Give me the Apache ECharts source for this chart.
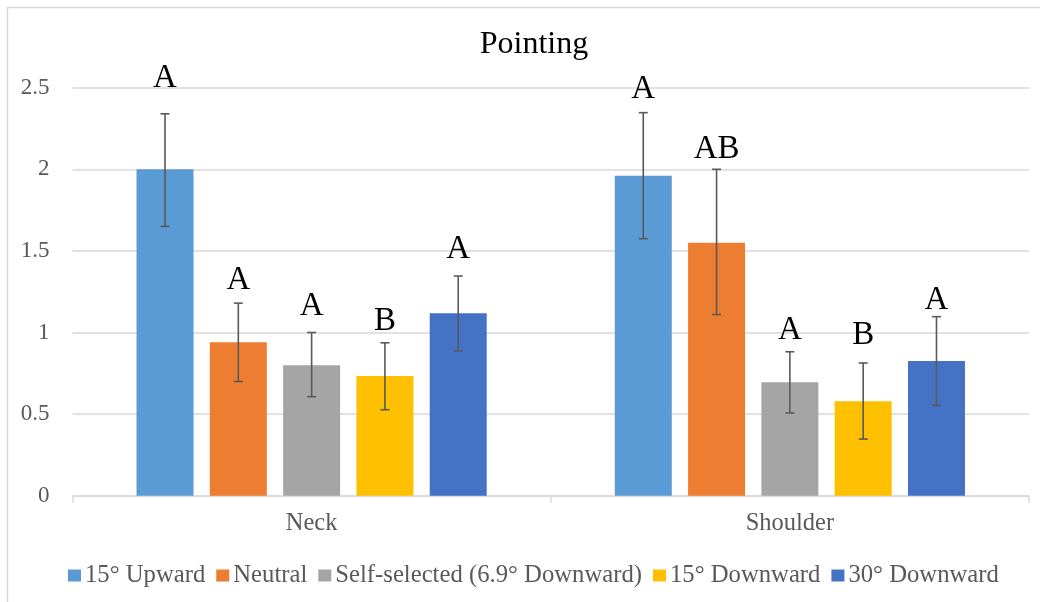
<!DOCTYPE html>
<html>
<head>
<meta charset="utf-8">
<script src="https://cdn.jsdelivr.net/npm/echarts@6/dist/echarts.min.js"></script>
<style>html,body{margin:0;padding:0;background:#fff}#c{width:1040px;height:602px}</style>
</head>
<body>
<div id="c"></div>
<script>
var categories = ['Neck', 'Shoulder'];
var seriesNames = ['15° Upward', 'Neutral', 'Self-selected (6.9° Downward)', '15° Downward', '30° Downward'];
var upward15 = [2.00, 1.96];
var neutral = [0.94, 1.55];
var selfSelected = [0.80, 0.695];
var downward15 = [0.733, 0.578];
var downward30 = [1.118, 0.825];
// error bar lows and highs per series [Neck, Shoulder]
var errLow = [[1.65, 1.575], [0.70, 1.11], [0.607, 0.507], [0.527, 0.347], [0.887, 0.554]];
var errHigh = [[2.34, 2.347], [1.18, 2.00], [1.00, 0.882], [0.937, 0.813], [1.346, 1.097]];
// significance letters and their heights (value units)
var letters = [['A', 'A'], ['A', 'AB'], ['A', 'A'], ['B', 'B'], ['A', 'A']];
var letterHeights = [[2.563, 2.496], [1.328, 2.129], [1.167, 1.021], [1.077, 0.99], [1.516, 1.205]];
var yTicks = [0, 0.5, 1, 1.5, 2, 2.5];

var values = [upward15, neutral, selfSelected, downward15, downward30];
var colors = ['#5B9BD5', '#ED7D31', '#A5A5A5', '#FFC000', '#4472C4'];
var BAR_W = 57, GAP = 0.286;
var FONT = '"Liberation Serif", "Times New Roman", serif';

var chart = echarts.init(document.getElementById('c'), null, {renderer: 'canvas'});

var errData = [];
for (var s = 0; s < 5; s++) {
  for (var c = 0; c < categories.length; c++) {
    errData.push([c, s, errLow[s][c], errHigh[s][c], letterHeights[s][c], letters[s][c]]);
  }
}

var series = values.map(function (v, i) {
  return {
    name: seriesNames[i], type: 'bar', data: v, barWidth: BAR_W, barGap: (GAP * 100) + '%',
    itemStyle: {color: colors[i]}, z: 2
  };
});
series.push({
  type: 'custom', name: 'err', clip: false, z: 5, silent: true,
  encode: {x: 0, y: [2, 3]},
  data: errData,
  renderItem: function (params, api) {
    var c = api.value(0), s = api.value(1);
    var base = api.coord([c, api.value(2)]);
    var top = api.coord([c, api.value(3)]);
    var lp = api.coord([c, api.value(4)]);
    var x = base[0] + (s - 2) * BAR_W * (1 + GAP);
    var cap = 4.5;
    var st = {stroke: '#595959', lineWidth: 1.6};
    return {
      type: 'group', children: [
        {type: 'line', shape: {x1: x, y1: base[1], x2: x, y2: top[1]}, style: st},
        {type: 'line', shape: {x1: x - cap, y1: base[1], x2: x + cap, y2: base[1]}, style: st},
        {type: 'line', shape: {x1: x - cap, y1: top[1], x2: x + cap, y2: top[1]}, style: st},
        {type: 'text', style: {text: letters[s][c], x: x, y: lp[1] + 1, align: 'center', verticalAlign: 'middle',
          font: '33px ' + FONT, fill: '#000'}}
      ]
    };
  }
});

chart.setOption({
  animation: false,
  backgroundColor: '#fff',
  title: {text: 'Pointing', left: 529, textAlign: 'center', top: 24,
    textStyle: {fontFamily: FONT, fontSize: 32, fontWeight: 'normal', color: '#000'}},
  legend: {
    data: seriesNames, top: 558, left: 63, icon: 'rect', itemWidth: 13, itemHeight: 12, itemGap: 11,
    textStyle: {fontFamily: FONT, fontSize: 24.7, color: '#595959', padding: [0, 0, 0, -1]}
  },
  grid: {left: 72.5, right: 11, top: 87.7, bottom: 106.3, containLabel: false},
  xAxis: {
    type: 'category', data: categories,
    axisLine: {lineStyle: {color: '#D9D9D9', width: 1.5}},
    axisTick: {show: true, length: 7, lineStyle: {color: '#D9D9D9', width: 1.5}},
    axisLabel: {fontFamily: FONT, fontSize: 24.5, color: '#595959', margin: 15}
  },
  yAxis: {
    type: 'value', min: 0, max: 2.5, interval: 0.5,
    axisLine: {show: false}, axisTick: {show: false},
    splitLine: {lineStyle: {color: '#D9D9D9', width: 1.5}},
    axisLabel: {fontFamily: FONT, fontSize: 23, color: '#595959', margin: 23,
      formatter: function (v) { return yTicks.indexOf(v) >= 0 ? String(v) : ''; }}
  },
  graphic: [{type: 'rect', shape: {x: 7.5, y: 7.5, width: 1100, height: 700},
    style: {fill: 'none', stroke: '#D9D9D9', lineWidth: 1.5}, silent: true, z: -1}],
  series: series
});
</script>
</body>
</html>
